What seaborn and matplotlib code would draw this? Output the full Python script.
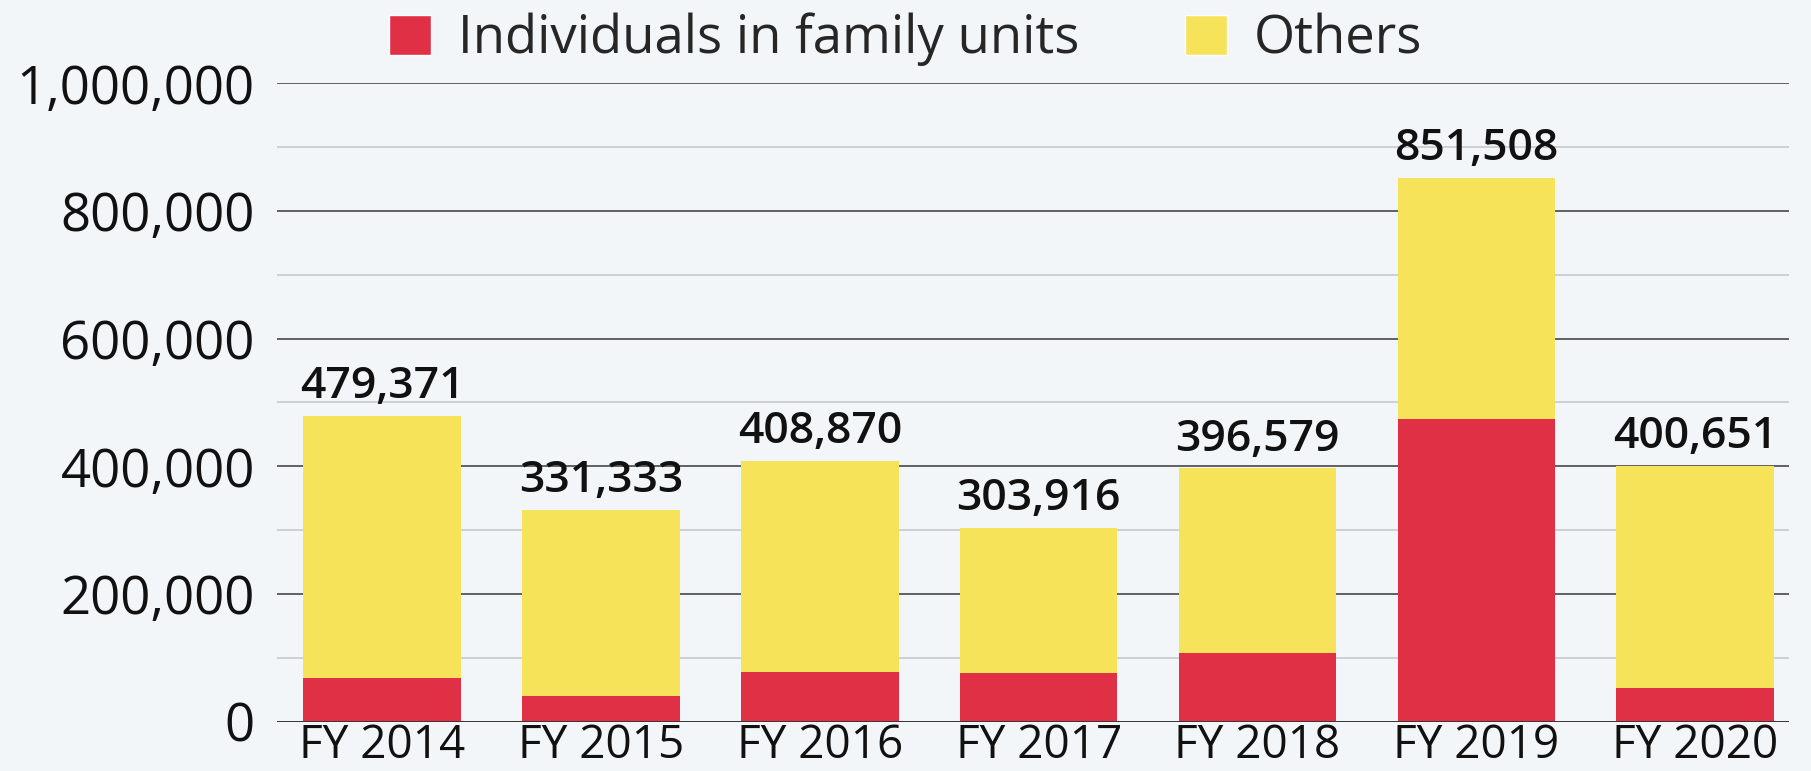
import matplotlib
matplotlib.use("Agg")
import matplotlib.pyplot as plt
import matplotlib.ticker as mticker
from matplotlib.patches import Patch
import pandas as pd
import seaborn as sns

years = ["FY 2014", "FY 2015", "FY 2016", "FY 2017", "FY 2018", "FY 2019", "FY 2020"]
totals = [479371, 331333, 408870, 303916, 396579, 851508, 400651]
family_units = [68445, 39838, 77674, 75622, 107212, 473682, 52230]

red = "#e03045"
yellow = "#f7e35a"
bg = "#f3f6f9"

df = pd.DataFrame({"year": years, "total": totals, "family": family_units})

sns.set_style("white")
plt.rcParams["font.family"] = ["Open Sans", "DejaVu Sans"]

fig = plt.figure(figsize=(18.11, 7.71), dpi=100, facecolor=bg)
ax = fig.add_axes([0.153, 0.064, 0.835, 0.828])
ax.set_facecolor(bg)

# whole bar in yellow, family units drawn over it in red
sns.barplot(data=df, x="year", y="total", color=yellow, width=0.72,
            saturation=1, linewidth=0, ax=ax, zorder=3)
sns.barplot(data=df, x="year", y="family", color=red, width=0.72,
            saturation=1, linewidth=0, ax=ax, zorder=4)

for i, t in enumerate(totals):
    ax.text(i, t + 12000, f"{t:,}", ha="center", va="bottom",
            fontsize=32, fontweight="semibold", color="#111111", zorder=5)

ax.set_ylim(0, 1000000)
ax.set_xlim(-0.48, 6.43)
ax.yaxis.set_major_locator(mticker.MultipleLocator(200000))
ax.yaxis.set_minor_locator(mticker.MultipleLocator(100000))
ax.yaxis.set_major_formatter(mticker.FuncFormatter(lambda v, p: f"{int(v):,}"))
ax.grid(axis="y", which="major", color="#555555", linewidth=1.3, zorder=0)
ax.grid(axis="y", which="minor", color="#c9cdd2", linewidth=1.3, zorder=0)
ax.set_axisbelow(True)
for s in ax.spines.values():
    s.set_visible(False)
ax.axhline(0, color="#333333", linewidth=2, zorder=6)

ax.tick_params(axis="y", which="both", length=0, labelsize=38, pad=16, labelcolor="#111111")
ax.tick_params(axis="x", length=0, labelsize=33, pad=1, labelcolor="#111111")
ax.set_xlabel("")
ax.set_ylabel("")

handles = [Patch(facecolor=red, label="Individuals in family units"),
           Patch(facecolor=yellow, label="Others")]
fig.legend(handles=handles, loc="upper center", bbox_to_anchor=(0.5, 1.045),
           ncol=2, frameon=False, fontsize=38, handlelength=0.8, handleheight=0.8,
           columnspacing=2.0, handletextpad=0.5)

fig.savefig("out.png", dpi=100, facecolor=bg)
